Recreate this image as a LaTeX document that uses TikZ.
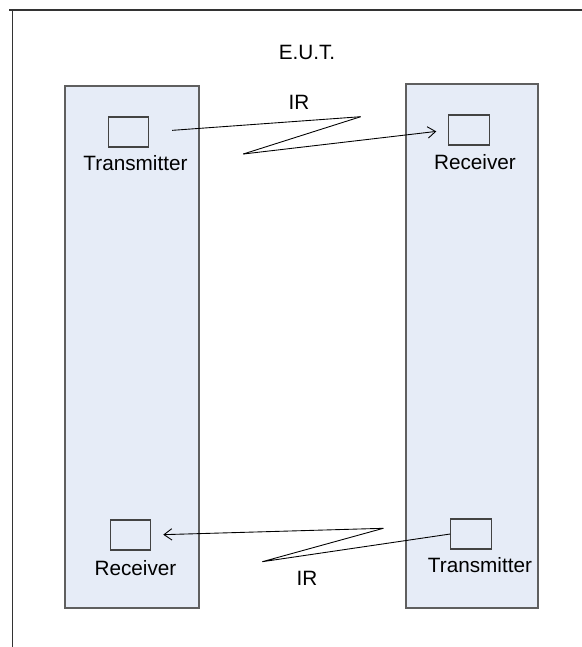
\documentclass[tikz,border=0pt]{standalone}
\usepackage{fontspec}
\setmainfont{Liberation Sans}
\usetikzlibrary{arrows.meta}
\definecolor{panelblue}{RGB}{230,236,247}
\definecolor{edgegray}{RGB}{95,95,95}

\begin{document}
\begin{tikzpicture}[x=0.02cm, y=-0.02cm,
    every node/.style={font=\fontsize{11.8pt}{14pt}\selectfont},
    panel/.style={draw=edgegray, fill=panelblue, line width=0.7pt},
    port/.style={draw=edgegray!70!black, minimum width=0.81cm, minimum height=0.6cm, inner sep=0pt, line width=0.6pt},
    ir/.style={line width=0.5pt}]
    \useasboundingbox (0,0) rectangle (582,647);

    % Frame
    \draw[line width=0.6pt, black!80] (9,10) -- (582,10);
    \draw[line width=0.6pt, black!80] (12.7,10) -- (12.7,647);

    % Units
    \draw[panel] (65,86) rectangle (199,608);
    \draw[panel] (406,84) rectangle (538,608);
    \node at (307,52) {E.U.T.};

    % Ports
    \node[port] (txA) at (128.5,132) {};
    \node[port] (rxA) at (469,130) {};
    \node[port] (rxB) at (130.5,535) {};
    \node[port] (txB) at (471,534) {};

    % Labels
    \node (txAlab) at (135.5,163) {Transmitter};
    \node (rxAlab) at (475,162) {Receiver};
    \node (rxBlab) at (135.5,568) {Receiver};
    \node (txBlab) at (480,565) {Transmitter};

    % IR links
    \coordinate (peakA) at (360.7,116.7);
    \coordinate (lowA) at (243.3,154);
    \coordinate (peakB) at (383.3,528.3);
    \coordinate (lowB) at (262.3,561.7);
    \draw[ir, shorten <=0.46cm] (txA.east) -- (peakA);
    \draw[ir] (peakA) -- (lowA);
    \draw[ir, -{Straight Barb[length=4.5pt,width=6.5pt]}, shorten >=0.24cm] (lowA) -- (rxA.west);
    \draw[ir] (txB.west) -- (lowB) -- (peakB);
    \draw[ir, -{Straight Barb[length=4.5pt,width=6.5pt]}, shorten >=0.24cm] (peakB) -- (rxB.east);
    \node (irA) at (299,102) {IR};
    \node (irB) at (307,578) {IR};
\end{tikzpicture}
\end{document}
